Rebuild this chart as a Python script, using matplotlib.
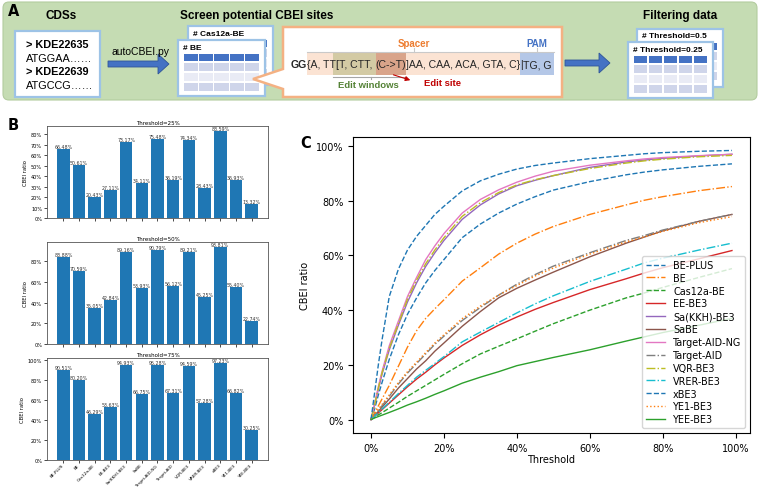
import matplotlib
matplotlib.use('Agg')
import matplotlib.pyplot as plt
import matplotlib.patches as mpatches
from matplotlib.path import Path
from matplotlib.ticker import PercentFormatter

# ---------------- data ----------------
editors = ['BE-PLUS', 'BE', 'Cas12a-BE', 'EE-BE3', 'Sa(KKH)-BE3', 'SaBE', 'Target-AID-NG',
           'Target-AID', 'VQR-BE3', 'VRER-BE3', 'xBE3', 'YE1-BE3', 'YEE-BE3']
ratio_25 = [66.48, 50.61, 20.43, 27.11, 73.17, 34.11, 75.48, 36.19, 74.34, 28.43, 83.59, 36.93, 13.32]
ratio_50 = [83.88, 70.59, 35.05, 42.84, 89.16, 53.93, 90.79, 56.12, 89.21, 45.25, 93.81, 55.40, 22.74]
ratio_75 = [90.51, 80.20, 46.29, 53.63, 94.93, 66.75, 95.28, 67.31, 94.59, 57.28, 97.23, 66.82, 30.25]
bar_titles = ['Threshold=25%', 'Threshold=50%', 'Threshold=75%']

thresholds = [0, 1, 2, 3, 5, 7.5, 10, 12.5, 15, 17.5, 20, 25, 30, 35, 40, 45, 50, 60, 70, 75, 80, 90, 99]
cbei_BE_PLUS = [0, 4, 9, 13.5, 22, 31, 38.5, 44.5, 50, 54.5, 58.5, 66.5, 71.5, 75.5, 78.8, 81.5, 83.9, 87, 89.5, 90.5, 91.3, 92.6, 93.5]
cbei_BE = [0, 2.5, 5, 7.5, 12.5, 19.5, 26.5, 32.5, 37, 40.5, 43.8, 50.6, 55.5, 60.5, 64.5, 67.8, 70.6, 75, 78.5, 80.2, 81.5, 83.7, 85.2]
cbei_Cas12a_BE = [0, 0.8, 1.7, 2.5, 4.2, 6.3, 8.5, 10.5, 12.5, 14.5, 16.5, 20.4, 24, 26.8, 29.5, 32.3, 35.05, 40, 44.5, 46.3, 48.3, 52, 55.2]
cbei_EE_BE3 = [0, 1.2, 2.4, 3.6, 6, 9, 12, 14.8, 17.3, 20, 22.5, 27.1, 31, 34.5, 37.5, 40.3, 42.8, 47.5, 51.5, 53.6, 55.5, 58.8, 61.8]
cbei_SaKKH_BE3 = [0, 5.5, 11, 16.5, 25.5, 34.5, 43, 50, 56, 61, 65.5, 73.2, 78.5, 82.5, 85.5, 87.5, 89.2, 92.2, 94.2, 94.9, 95.5, 96.4, 97]
cbei_SaBE = [0, 1.5, 3, 4.5, 7.5, 11.5, 15, 18.5, 21.5, 25, 28, 34.1, 39.5, 44.5, 48, 51, 53.9, 59.5, 64.5, 66.75, 69, 72.5, 75]
cbei_Target_AID_NG = [0, 6, 12, 17.5, 27, 36, 45, 52, 58.5, 63.5, 68, 75.5, 80.5, 84, 86.8, 89, 90.8, 93, 94.6, 95.3, 95.8, 96.5, 97]
cbei_Target_AID = [0, 1.8, 3.5, 5, 8.5, 13, 17, 20.5, 24, 27.5, 30.5, 36.2, 41, 45.5, 49.5, 53, 56.1, 61, 65.5, 67.3, 69.3, 72.5, 75]
cbei_VQR_BE3 = [0, 5.5, 11.5, 17, 26, 35, 44, 51, 57, 62, 66.5, 74.3, 79.3, 83, 85.8, 87.7, 89.2, 91.8, 93.8, 94.6, 95.2, 96.1, 96.6]
cbei_VRER_BE3 = [0, 1.2, 2.5, 3.8, 6.3, 9.5, 12.5, 15.5, 18, 20.5, 23, 28.4, 32, 35.5, 39, 42.3, 45.25, 50.5, 55, 57.3, 59, 62, 64.5]
cbei_xBE3 = [0, 10, 20, 29, 45, 55, 62, 67, 71, 75, 78, 83.6, 87.3, 89.7, 91.6, 92.9, 93.8, 95.4, 96.6, 97.2, 97.6, 98.1, 98.4]
cbei_YE1_BE3 = [0, 2, 3.8, 5.5, 9, 13.5, 17.5, 21, 24.5, 28, 31, 36.9, 41.5, 45.5, 49, 52.5, 55.4, 60.5, 65, 66.8, 68.8, 72, 74.2]
cbei_YEE_BE3 = [0, 0.6, 1.1, 1.6, 2.6, 3.9, 5.3, 6.5, 7.8, 9.2, 10.5, 13.3, 15.5, 17.5, 19.7, 21.2, 22.7, 25.5, 28.7, 30.25, 31.8, 34.5, 37]

curves = [cbei_BE_PLUS, cbei_BE, cbei_Cas12a_BE, cbei_EE_BE3, cbei_SaKKH_BE3, cbei_SaBE,
          cbei_Target_AID_NG, cbei_Target_AID, cbei_VQR_BE3, cbei_VRER_BE3, cbei_xBE3,
          cbei_YE1_BE3, cbei_YEE_BE3]
line_colors = ['C0', 'C1', 'C2', 'C3', 'C4', 'C5', 'C6', 'C7', 'C8', 'C9', 'C0', 'C1', 'C2']
line_styles = ['--', '-.', '--', '-', '-', '-', '-', '-.', '-.', '-.', '--', ':', '-']

# ---------------- figure ----------------
fig = plt.figure(figsize=(7.6, 4.89), dpi=100)
W, H = 760, 489

# overlay axes in pixel coordinates for panel A and panel letters
axA = fig.add_axes([0, 0, 1, 1])
axA.set_xlim(0, W)
axA.set_ylim(H, 0)
axA.axis('off')
FA = 'Liberation Sans'
BLUE = '#4472c4'
LBLUE = '#9dc3e6'


def rect(x0, y0, x1, y1, fc, ec='none', lw=0, z=1.0):
    axA.add_patch(mpatches.Rectangle((x0, y0), x1 - x0, y1 - y0, fc=fc, ec=ec, lw=lw, zorder=z))


def txt(x, y, s, size=7.5, weight='normal', color='black', ha='center', z=5):
    return axA.text(x, y, s, fontsize=size, fontweight=weight, color=color, ha=ha, va='center',
                    family=FA, zorder=z)


def table(x0, y0, x1, y1, title, z):
    rect(x0, y0, x1, y1, 'white', LBLUE, 1.6, z)
    txt(x0 + 5, y0 + 7, title, size=6, weight='bold', ha='left', z=z + 0.2)
    ix0, ix1 = x0 + 5, x1 - 5
    cw = (ix1 - ix0) / 5
    rows = [(14, 21, BLUE), (23, 31, '#cfd5ea'), (33, 41, '#e9ebf5'), (43, 51, '#cfd5ea')]
    for a, b, c in rows:
        if y0 + b > y1 - 1:
            continue
        for k in range(5):
            rect(ix0 + k * cw + 0.6, y0 + a, ix0 + (k + 1) * cw - 0.6, y0 + b, c, z=z + 0.1)


def arrow(x0, x1, y):
    axA.add_patch(mpatches.FancyArrow(x0, y, x1 - x0, 0, width=6, head_width=20, head_length=11,
                                      length_includes_head=True, fc=BLUE, ec='#2f5597', lw=0.6, zorder=3))


# green background
axA.add_patch(mpatches.FancyBboxPatch((3, 3), 754, 98, boxstyle='round,pad=0,rounding_size=6',
                                      fc='#c5dcb3', ec='#b3cc9f', lw=0.8, zorder=0.5))
axA.text(8, 12, 'A', fontsize=10.5, fontweight='bold', ha='left', va='center', family='DejaVu Sans')
txt(61, 16, 'CDSs', size=8.5, weight='bold')
txt(257, 16, 'Screen potential CBEI sites', size=8.5, weight='bold')
txt(680, 16, 'Filtering data', size=8.5, weight='bold')

# CDS box
rect(15, 32, 100, 98, 'white', LBLUE, 1.6, 2)
txt(26, 45, '> KDE22635', size=7.8, weight='bold', ha='left')
txt(26, 59, 'ATGGAA……', size=7.8, ha='left')
txt(26, 72, '> KDE22639', size=7.8, weight='bold', ha='left')
txt(26, 86, 'ATGCCG……', size=7.8, ha='left')

arrow(108, 169, 65)
txt(140, 52, 'autoCBEI.py', size=7.5)

table(188, 27, 273, 86, '# Cas12a-BE', 2)
table(178, 41, 265, 97, '# BE', 3)

# callout box
cverts = [(283, 28), (562, 28), (562, 98), (283, 98), (283, 90), (253, 80), (283, 70), (283, 28)]
ccodes = [Path.MOVETO] + [Path.LINETO] * 6 + [Path.CLOSEPOLY]
axA.add_patch(mpatches.PathPatch(Path(cverts, ccodes), fc='white', ec='#f4b183', lw=1.8, zorder=4))

# sequence pieces, measured so the shading follows the text
fig.canvas.draw()
renderer = fig.canvas.get_renderer()
pieces = [('GG', 'bold'), ('{A, TT', 'normal'), ('[T, CTT, ', 'normal'), ('(C->T)', 'normal'),
          (']AA, CAA, ACA, GTA, C}', 'normal'), ('|', 'normal'), ('TG, G', 'normal')]
xpos = 291
ext = []
for s, w in pieces:
    t = axA.text(xpos, 65, s, fontsize=7.6, fontweight=w, ha='left', va='center', family=FA, zorder=6,
                 color='#262626')
    bb = t.get_window_extent(renderer=renderer)
    ext.append((xpos, xpos + bb.width))
    xpos = xpos + bb.width
sp0, sp1 = ext[1][0], ext[4][1]
ew0, ew1 = ext[2][0], ext[3][1]
es0, es1 = ext[3][0], ext[3][1]
pm0, pm1 = ext[5][0], ext[6][1] + 2
rect(sp0, 54, sp1, 76, '#fbe3d3', z=4.5)
rect(ew0 - 3, 54, ew1, 76, '#d3caa4', z=4.6)
rect(es0, 54, es1, 76, '#d9a48a', z=4.7)
rect(pm0, 54, pm1, 76, '#b4c7e7', z=4.5)
# brackets
axA.plot([sp0, sp1], [52.5, 52.5], color='#c9c9c9', lw=0.8, zorder=5)
axA.plot([(sp0 + sp1) / 2] * 2, [49, 52.5], color='#c9c9c9', lw=0.8, zorder=5)
axA.plot([pm0, pm1], [52.5, 52.5], color='#c9c9c9', lw=0.8, zorder=5)
axA.plot([(pm0 + pm1) / 2] * 2, [49, 52.5], color='#c9c9c9', lw=0.8, zorder=5)
axA.plot([ew0 - 3, ew1], [77.5, 77.5], color='#a6a6a6', lw=0.8, zorder=5)
axA.plot([(ew0 + ew1) / 2] * 2, [77.5, 80], color='#a6a6a6', lw=0.8, zorder=5)
txt((sp0 + sp1) / 2, 44, 'Spacer', size=7, weight='bold', color='#ed7d31')
txt((pm0 + pm1) / 2, 44, 'PAM', size=7, weight='bold', color=BLUE)
txt((ew0 + ew1) / 2 - 3, 85, 'Edit windows', size=6.8, weight='bold', color='#548235')
txt(443, 84, 'Edit site', size=6.8, weight='bold', color='#c00000')
axA.annotate('', xy=(413, 82), xytext=((es0 + es1) / 2, 75),
             arrowprops=dict(arrowstyle='-|>', color='#c00000', lw=0.8, mutation_scale=7), zorder=6)

arrow(565, 610, 64)
table(637, 30, 723, 88, '# Threshold=0.5', 2)
table(628, 43, 713, 99, '# Threshold=0.25', 3)

# ---------------- panel B ----------------
axA.text(8, 125, 'B', fontsize=10.5, fontweight='bold', ha='left', va='center', family='DejaVu Sans')
b_rects = [[47 / W, 1 - 219.3 / H, 221 / W, 92 / H],
           [47 / W, 1 - 345 / H, 221 / W, 101.7 / H],
           [47 / W, 1 - 461 / H, 221 / W, 101.7 / H]]
for i, vals in enumerate([ratio_25, ratio_50, ratio_75]):
    ax = fig.add_axes(b_rects[i])
    v = [x / 100 for x in vals]
    bars = ax.bar(range(len(editors)), v, width=0.8, color='#1f77b4')
    for b, val in zip(bars, vals):
        ax.text(b.get_x() + b.get_width() / 2, b.get_height(), f'{val:.2f}%', ha='center', va='bottom',
                fontsize=3.4, color='#333333')
    ax.set_title(bar_titles[i], fontsize=4, pad=2)
    ax.yaxis.set_major_formatter(PercentFormatter(1.0, decimals=0))
    ax.tick_params(labelsize=3.6, length=2, width=0.5, pad=1.5)
    ax.set_ylabel('CBEI ratio', fontsize=3.8, labelpad=2)
    for sp in ax.spines.values():
        sp.set_linewidth(0.6)
        sp.set_color('#555555')
    ax.set_xticks(range(len(editors)))
    if i < 2:
        ax.set_xticklabels([])
    else:
        ax.tick_params(axis='x', pad=1)
        ax.set_xticklabels(editors, rotation=45, ha='right', va='center', rotation_mode='anchor',
                           fontsize=3.1)

# ---------------- panel C ----------------
axA.text(300, 143, 'C', fontsize=10.5, fontweight='bold', ha='left', va='center', family='DejaVu Sans')
axC = fig.add_axes([353 / W, 1 - 434 / H, 397 / W, 296 / H])
tx = [t / 100 for t in thresholds]
for name, c, col, ls in zip(editors, curves, line_colors, line_styles):
    axC.plot(tx, [y / 100 for y in c], color=col, ls=ls, lw=1.0, label=name)
axC.xaxis.set_major_formatter(PercentFormatter(1.0, decimals=0))
axC.yaxis.set_major_formatter(PercentFormatter(1.0, decimals=0))
axC.set_xticks([0, 0.2, 0.4, 0.6, 0.8, 1.0])
axC.set_yticks([0, 0.2, 0.4, 0.6, 0.8, 1.0])
axC.tick_params(labelsize=7)
axC.set_xlabel('Threshold', fontsize=7, labelpad=1)
axC.set_ylabel('CBEI ratio', fontsize=7)
axC.legend(loc='lower right', fontsize=6.9, handlelength=2.0, labelspacing=0.3, borderpad=0.4)

fig.savefig('out.png', dpi=100)
